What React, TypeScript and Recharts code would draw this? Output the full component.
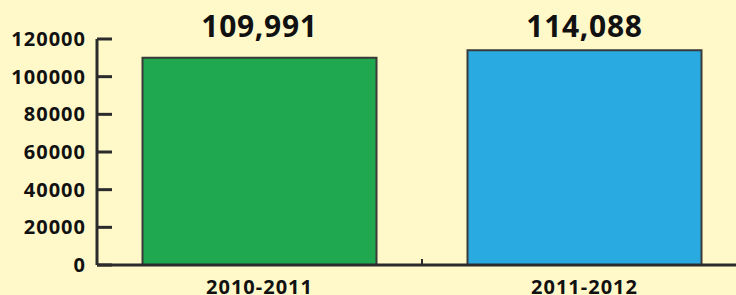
import React from "react";
import { BarChart, Bar, XAxis, YAxis, Cell, LabelList } from "recharts";

const categories = ["2010-2011", "2011-2012"];
const values = [109991, 114088];
const valueLabels = ["109,991", "114,088"];
const barColors = ["#1fa84f", "#29aae1"];
const yTicks = [0, 20000, 40000, 60000, 80000, 100000, 120000];

const data = categories.map((c, i) => ({ name: c, value: values[i], label: valueLabels[i] }));

const BG = "#fff9c9";
const INK = "#111111";
const AXIS = "#2b2b2b";
const FONT = "'Noto Sans', sans-serif";

const YTick = (props: any) => {
  const { x, y, payload } = props;
  return (
    <g>
      <line x1={x} x2={x + 15} y1={y} y2={y} stroke={AXIS} strokeWidth={3} />
      <text x={x - 11} y={y + 7} textAnchor="end" fontFamily={FONT} fontWeight={700} fontSize={20} letterSpacing={1} fill={INK}>
        {payload.value}
      </text>
    </g>
  );
};

const XTick = (props: any) => {
  const { x, y, payload, index } = props;
  const off = payload.offset || 0;
  return (
    <g>
      {index === 0 && (
        <line x1={x + off} x2={x + off} y1={y} y2={y - 6} stroke={AXIS} strokeWidth={2} />
      )}
      <text x={x} y={y + 29} textAnchor="middle" fontFamily={FONT} fontWeight={700} fontSize={20} letterSpacing={1} fill={INK}>
        {payload.value}
      </text>
    </g>
  );
};

const ValueLabel = (props: any) => {
  const { x, width, index } = props;
  return (
    <text x={x + width / 2} y={36.5} textAnchor="middle" fontFamily={FONT} fontWeight={700} fontSize={30} letterSpacing={0.7} fill={INK}>
      {valueLabels[index]}
    </text>
  );
};

export default function App() {
  return (
    <div style={{ position: "absolute", left: 0, top: 0, width: 736, height: 295, overflow: "hidden", background: BG }}>
      <BarChart
        width={760}
        height={295}
        data={data}
        margin={{ top: 39, right: 13, left: 0, bottom: 0 }}
        barCategoryGap="14%"
      >
        <YAxis
          width={97}
          domain={[0, 120000]}
          ticks={yTicks}
          interval={0}
          tickLine={false}
          tickSize={0}
          tickMargin={0}
          axisLine={{ stroke: AXIS, strokeWidth: 3 }}
          tick={<YTick />}
        />
        <XAxis
          dataKey="name"
          height={30}
          tickLine={false}
          tickSize={0}
          tickMargin={0}
          axisLine={{ stroke: AXIS, strokeWidth: 3 }}
          tick={<XTick />}
          interval={0}
        />
        <Bar dataKey="value" isAnimationActive={false} stroke="#3a3a3a" strokeWidth={2}>
          {data.map((d, i) => (
            <Cell key={d.name} fill={barColors[i]} />
          ))}
          <LabelList dataKey="label" content={<ValueLabel />} />
        </Bar>
      </BarChart>
    </div>
  );
}
